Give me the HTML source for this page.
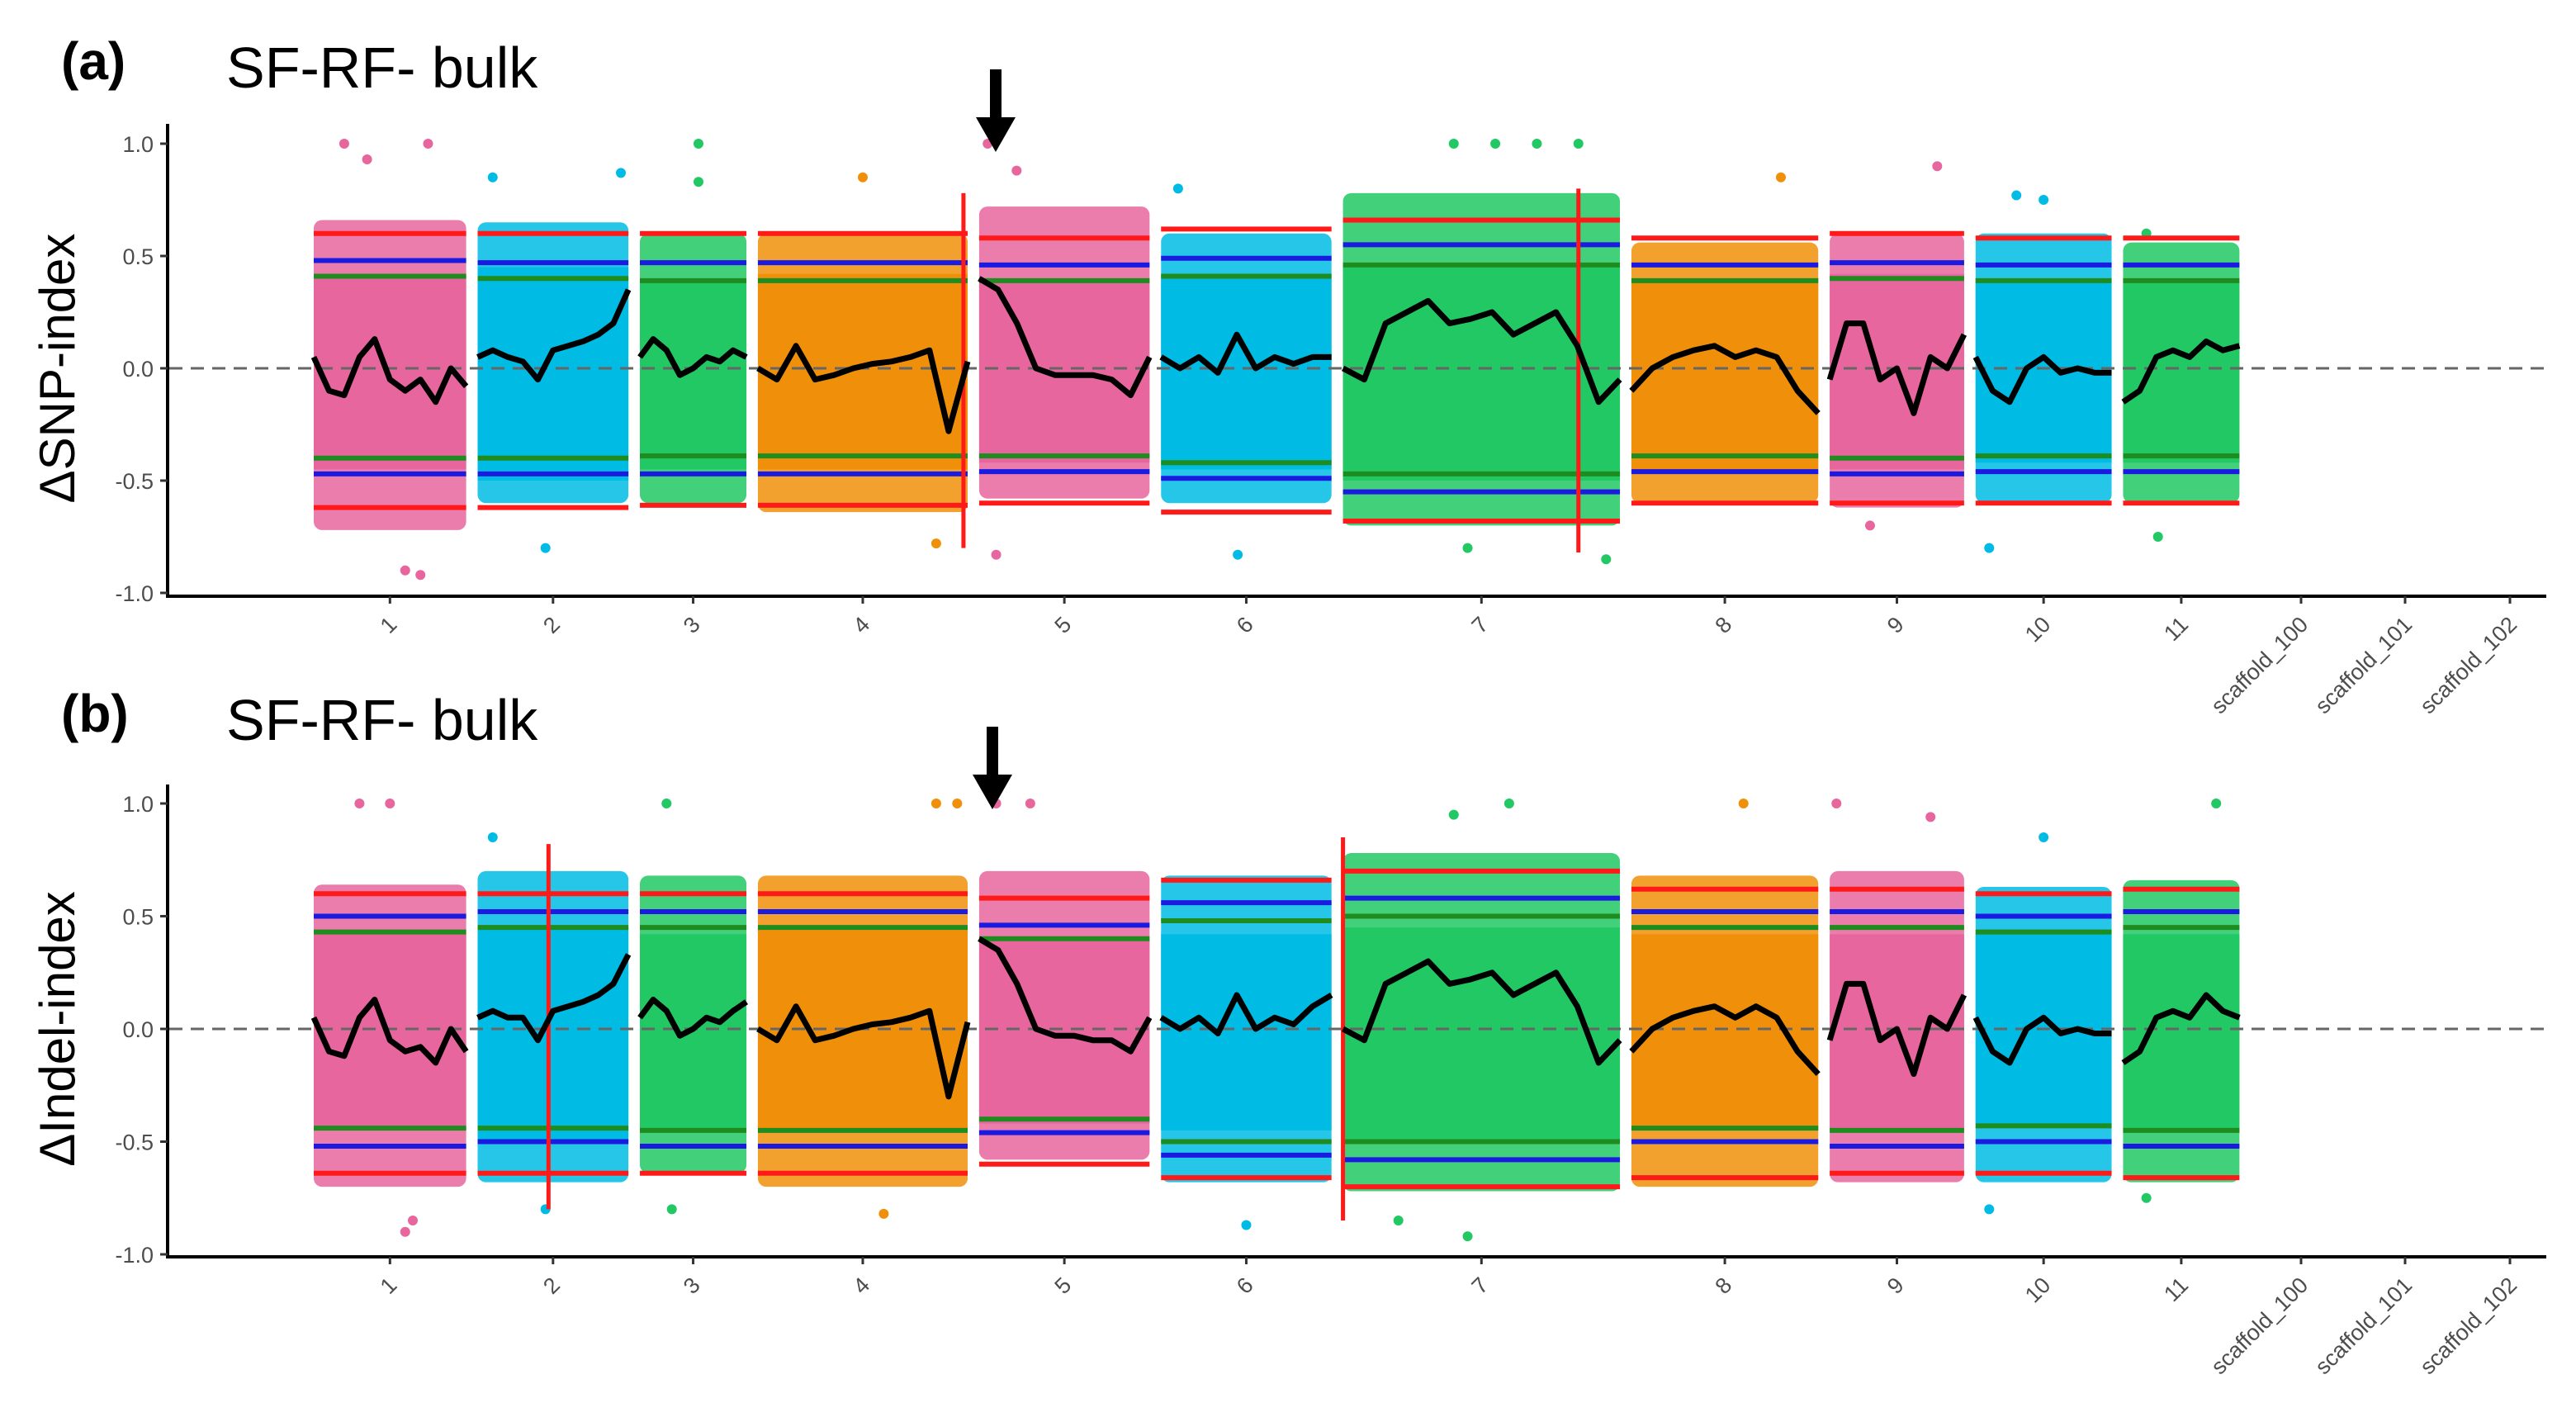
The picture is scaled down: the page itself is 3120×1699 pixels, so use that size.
<!DOCTYPE html>
<html><head><meta charset="utf-8"><style>
html,body{margin:0;padding:0;background:#fff;}
svg{display:block;font-family:"Liberation Sans",Arial,sans-serif;}
</style></head><body>
<svg id="fig" width="3120" height="1699" viewBox="0 0 3120 1699" xmlns="http://www.w3.org/2000/svg"></svg>
<script>
// ---- data ----
const chromNames = ["1","2","3","4","5","6","7","8","9","10","11"];
const chromLengths = [93,92,65,128,104,104,169,114,82,83,71];
const scaffoldNames = ["scaffold_100","scaffold_101","scaffold_102"];
const chromColors = ["#E8669E","#00BCE4","#22C864","#F0900A"];
const yTicks = [-1.0,-0.5,0.0,0.5,1.0];
const yTickLabels = ["-1.0","-0.5","0.0","0.5","1.0"];

const snpMean = [
 [0.05,-0.1,-0.12,0.05,0.13,-0.05,-0.1,-0.05,-0.15,0.0,-0.08],
 [0.05,0.08,0.05,0.03,-0.05,0.08,0.1,0.12,0.15,0.2,0.35],
 [0.05,0.13,0.08,-0.03,0.0,0.05,0.03,0.08,0.05],
 [0.0,-0.05,0.1,-0.05,-0.03,0.0,0.02,0.03,0.05,0.08,-0.28,0.03],
 [0.4,0.35,0.2,0.0,-0.03,-0.03,-0.03,-0.05,-0.12,0.05],
 [0.05,0.0,0.05,-0.02,0.15,0.0,0.05,0.02,0.05,0.05],
 [0.0,-0.05,0.2,0.25,0.3,0.2,0.22,0.25,0.15,0.2,0.25,0.1,-0.15,-0.05],
 [-0.1,0.0,0.05,0.08,0.1,0.05,0.08,0.05,-0.1,-0.2],
 [-0.05,0.2,0.2,-0.05,0.0,-0.2,0.05,0.0,0.15],
 [0.05,-0.1,-0.15,0.0,0.05,-0.02,0.0,-0.02,-0.02],
 [-0.15,-0.1,0.05,0.08,0.05,0.12,0.08,0.1]
];
const indelMean = [
 [0.05,-0.1,-0.12,0.05,0.13,-0.05,-0.1,-0.08,-0.15,0.0,-0.1],
 [0.05,0.08,0.05,0.05,-0.05,0.08,0.1,0.12,0.15,0.2,0.33],
 [0.05,0.13,0.08,-0.03,0.0,0.05,0.03,0.08,0.12],
 [0.0,-0.05,0.1,-0.05,-0.03,0.0,0.02,0.03,0.05,0.08,-0.3,0.03],
 [0.4,0.35,0.2,0.0,-0.03,-0.03,-0.05,-0.05,-0.1,0.05],
 [0.05,0.0,0.05,-0.02,0.15,0.0,0.05,0.02,0.1,0.15],
 [0.0,-0.05,0.2,0.25,0.3,0.2,0.22,0.25,0.15,0.2,0.25,0.1,-0.15,-0.05],
 [-0.1,0.0,0.05,0.08,0.1,0.05,0.1,0.05,-0.1,-0.2],
 [-0.05,0.2,0.2,-0.05,0.0,-0.2,0.05,0.0,0.15],
 [0.05,-0.1,-0.15,0.0,0.05,-0.02,0.0,-0.02,-0.02],
 [-0.15,-0.1,0.05,0.08,0.05,0.15,0.08,0.05]
];
const snpRedHi = [0.6,0.6,0.6,0.6,0.58,0.62,0.66,0.58,0.6,0.58,0.58];
const snpBlueHi = [0.48,0.47,0.47,0.47,0.46,0.49,0.55,0.46,0.47,0.46,0.46];
const snpGreenHi = [0.41,0.4,0.39,0.39,0.39,0.41,0.46,0.39,0.4,0.39,0.39];
const snpRedLo = [-0.62,-0.62,-0.61,-0.61,-0.6,-0.64,-0.68,-0.6,-0.6,-0.6,-0.6];
const snpBlueLo = [-0.47,-0.47,-0.47,-0.47,-0.46,-0.49,-0.55,-0.46,-0.47,-0.46,-0.46];
const snpGreenLo = [-0.4,-0.4,-0.39,-0.39,-0.39,-0.42,-0.47,-0.39,-0.4,-0.39,-0.39];
const indelRedHi = [0.6,0.6,0.6,0.6,0.58,0.66,0.7,0.62,0.62,0.6,0.62];
const indelBlueHi = [0.5,0.52,0.52,0.52,0.46,0.56,0.58,0.52,0.52,0.5,0.52];
const indelGreenHi = [0.43,0.45,0.45,0.45,0.4,0.48,0.5,0.45,0.45,0.43,0.45];
const indelRedLo = [-0.64,-0.64,-0.64,-0.64,-0.6,-0.66,-0.7,-0.66,-0.64,-0.64,-0.66];
const indelBlueLo = [-0.52,-0.5,-0.52,-0.52,-0.46,-0.56,-0.58,-0.5,-0.52,-0.5,-0.52];
const indelGreenLo = [-0.44,-0.44,-0.45,-0.45,-0.4,-0.5,-0.5,-0.44,-0.45,-0.43,-0.45];
const snpCoreHi = [0.42,0.45,0.4,0.42,0.4,0.4,0.45,0.4,0.42,0.4,0.38];
const snpCoreLo = [-0.45,-0.5,-0.45,-0.45,-0.42,-0.45,-0.5,-0.45,-0.45,-0.42,-0.42];
const snpOuterHi = [0.66,0.65,0.6,0.6,0.72,0.6,0.78,0.56,0.6,0.6,0.56];
const snpOuterLo = [-0.72,-0.6,-0.6,-0.64,-0.58,-0.6,-0.7,-0.6,-0.62,-0.6,-0.6];
const indelCoreHi = [0.42,0.45,0.42,0.45,0.4,0.42,0.45,0.42,0.42,0.42,0.42];
const indelCoreLo = [-0.45,-0.5,-0.45,-0.45,-0.42,-0.45,-0.5,-0.45,-0.45,-0.42,-0.45];
const indelOuterHi = [0.64,0.7,0.68,0.68,0.7,0.68,0.78,0.68,0.7,0.63,0.66];
const indelOuterLo = [-0.7,-0.68,-0.64,-0.7,-0.58,-0.68,-0.72,-0.7,-0.68,-0.68,-0.68];
const snpOutChrom = [0,0,0,0,0,1,1,1,2,2,3,3,4,4,4,5,5,6,6,6,6,6,6,7,8,8,9,9,9,10,10];
const snpOutFrac  = [0.2,0.75,0.35,0.6,0.7,0.1,0.95,0.45,0.55,0.55,0.5,0.85,0.05,0.22,0.1,0.1,0.45,0.4,0.55,0.7,0.85,0.45,0.95,0.8,0.8,0.3,0.3,0.5,0.1,0.3,0.2];
const snpOutVal   = [1.0,1.0,0.93,-0.9,-0.92,0.85,0.87,-0.8,1.0,0.83,0.85,-0.78,1.0,0.88,-0.83,0.8,-0.83,1.0,1.0,1.0,1.0,-0.8,-0.85,0.85,0.9,-0.7,0.77,0.75,-0.8,-0.75,0.6];
const indelOutChrom = [0,0,0,0,1,1,2,2,3,3,3,4,4,5,6,6,6,6,7,8,8,9,9,10,10];
const indelOutFrac  = [0.3,0.5,0.65,0.6,0.1,0.45,0.25,0.3,0.85,0.95,0.6,0.1,0.3,0.5,0.6,0.45,0.2,0.4,0.6,0.05,0.75,0.5,0.1,0.8,0.2];
const indelOutVal   = [1.0,1.0,-0.85,-0.9,0.85,-0.8,1.0,-0.8,1.0,1.0,-0.82,1.0,1.0,-0.87,1.0,-0.92,-0.85,0.95,1.0,1.0,0.94,0.85,-0.8,1.0,-0.75];
// vertical threshold spikes: chrom index, fraction, top value, bottom value
const snpSpikeChrom = [3,6];
const snpSpikeFrac = [0.98,0.85];
const snpSpikeTop = [0.78,0.8];
const snpSpikeBot = [-0.8,-0.82];
const indelSpikeChrom = [1,6];
const indelSpikeFrac = [0.47,0.0];
const indelSpikeTop = [0.82,0.85];
const indelSpikeBot = [-0.8,-0.85];

// ---- layout ----
const NS = "http://www.w3.org/2000/svg";
const svg = document.getElementById("fig");
const GAP = 7;
const xLeft = 380, chromPxPerUnit = 1.985;
const starts = [];
{ let s = 0; chromLengths.forEach(L=>{starts.push(s); s += L + GAP;}); }
function xScale(u){ return xLeft + u*chromPxPerUnit; }
const scaffoldX = [2787,2913,3040];

function el(tag, attrs, parent){
  const e = document.createElementNS(NS, tag);
  for (const k in attrs) e.setAttribute(k, attrs[k]);
  (parent||svg).appendChild(e);
  return e;
}

function panel(cfg){
  const y0 = cfg.zeroY, yr = cfg.unitPx;
  const yScale = v => y0 - v*yr;
  const g = el("g", {});
  
  

  chromLengths.forEach((L,i)=>{
    const x1 = xScale(starts[i]), x2 = xScale(starts[i]+L), col = chromColors[i%4];
    const outer = el("rect",{x:x1,y:yScale(cfg.outerHi[i]),width:x2-x1,height:yScale(cfg.outerLo[i])-yScale(cfg.outerHi[i]),fill:col,opacity:0.85,rx:10},g);
    
    
    const core = el("rect",{x:x1,y:yScale(cfg.coreHi[i]),width:x2-x1,height:yScale(cfg.coreLo[i])-yScale(cfg.coreHi[i]),fill:col},g);
    
    
  });
  cfg.outChrom.forEach((c,k)=>{
    const cx = xScale(starts[c] + cfg.outFrac[k]*chromLengths[c]);
    const d = el("circle",{cx:cx,cy:yScale(cfg.outVal[k]),r:6,fill:chromColors[c%4]},g);
    
    
  });

  const zl = el("line",{x1:205,x2:3084,y1:yScale(0),y2:yScale(0),stroke:"#666",'stroke-width':3,'stroke-dasharray':"16 10"},g);
  
  

  const th = [[cfg.redHi,"#FF1A1A"],[cfg.blueHi,"#1A1AE0"],[cfg.greenHi,"#1E8C1E"],[cfg.redLo,"#FF1A1A"],[cfg.blueLo,"#1A1AE0"],[cfg.greenLo,"#1E8C1E"]];
  const thNames = ["ci99-upper","ci95-upper","ci90-upper","ci99-lower","ci95-lower","ci90-lower"];
  th.forEach(([arr,col],t)=>{
    chromLengths.forEach((L,i)=>{
      const l = el("line",{x1:xScale(starts[i]),x2:xScale(starts[i]+L),y1:yScale(arr[i]),y2:yScale(arr[i]),stroke:col,'stroke-width':6},g);
      
      
    });
  });
  cfg.spikeChrom.forEach((c,k)=>{
    const x = xScale(starts[c] + cfg.spikeFrac[k]*chromLengths[c]);
    const s = el("line",{x1:x,x2:x,y1:yScale(cfg.spikeTop[k]),y2:yScale(cfg.spikeBot[k]),stroke:"#FF1A1A",'stroke-width':5},g);
    
    
  });

  cfg.mean.forEach((vals,i)=>{
    const n = vals.length;
    const pts = vals.map((v,j)=> xScale(starts[i] + chromLengths[i]*j/(n-1)).toFixed(1)+","+yScale(v).toFixed(1)).join(" ");
    const p = el("polyline",{points:pts,fill:"none",stroke:"#000",'stroke-width':7,'stroke-linejoin':"round"},g);
    
    
  });

  const ya = el("line",{x1:203,x2:203,y1:cfg.axisTop,y2:cfg.axisY,stroke:"#000",'stroke-width':4},g);
  
  
  const xa = el("line",{x1:201,x2:3084,y1:cfg.axisY,y2:cfg.axisY,stroke:"#000",'stroke-width':4},g);
  
  
  yTicks.forEach((v,k)=>{
    const t = el("line",{x1:194,x2:203,y1:yScale(v),y2:yScale(v),stroke:"#333",'stroke-width':3},g);
    
    
    const tx = el("text",{x:186,y:yScale(v)+10,'text-anchor':"end",'font-size':27,fill:"#4d4d4d"},g);
    tx.textContent = yTickLabels[k];
    
    
  });
  const labels = chromNames.map((n,i)=>[n, xScale(starts[i]+chromLengths[i]/2)]).concat(scaffoldNames.map((n,i)=>[n, scaffoldX[i]]));
  labels.forEach(([n,x])=>{
    const t = el("line",{x1:x,x2:x,y1:cfg.axisY,y2:cfg.axisY+9,stroke:"#333",'stroke-width':3},g);
    
    
    const ty = cfg.axisY+26;
    const tx = el("text",{x:x+10,y:ty+10,'text-anchor':"end",'font-size':27,fill:"#4d4d4d",transform:`rotate(-45 ${x+10} ${ty+10})`},g);
    tx.textContent = n;
    
    
  });
  const yt = el("text",{x:0,y:0,'text-anchor':"middle",'font-size':60,fill:"#000",transform:`translate(90 ${yScale(0)}) rotate(-90)`},g);
  yt.textContent = cfg.yTitle;
  
  
  const pl = el("text",{x:74,y:cfg.titleY,'font-size':64,'font-weight':"bold",fill:"#000"},g);
  pl.textContent = cfg.letter;
  
  
  const tt = el("text",{x:274,y:cfg.titleY+10,'font-size':70,fill:"#000"},g);
  tt.textContent = "SF-RF- bulk";
  
  
  const ax = cfg.arrowX, at = cfg.arrowTop;
  const ar = el("polygon",{points:`${ax-7},${at} ${ax+7},${at} ${ax+7},${at+58} ${ax+24},${at+58} ${ax},${at+100} ${ax-24},${at+58} ${ax-7},${at+58}`,fill:"#000"},g);
  
  
}

panel({name:"panel-a-snp",zeroY:446,unitPx:272,axisY:722,axisTop:150,yTitle:"ΔSNP-index",letter:"(a)",titleY:96,arrowX:1206,arrowTop:84,
  mean:snpMean,redHi:snpRedHi,blueHi:snpBlueHi,greenHi:snpGreenHi,redLo:snpRedLo,blueLo:snpBlueLo,greenLo:snpGreenLo,
  coreHi:snpCoreHi,coreLo:snpCoreLo,outerHi:snpOuterHi,outerLo:snpOuterLo,outChrom:snpOutChrom,outFrac:snpOutFrac,outVal:snpOutVal,
  spikeChrom:snpSpikeChrom,spikeFrac:snpSpikeFrac,spikeTop:snpSpikeTop,spikeBot:snpSpikeBot});
panel({name:"panel-b-indel",zeroY:1246,unitPx:273,axisY:1522,axisTop:950,yTitle:"ΔIndel-index",letter:"(b)",titleY:886,arrowX:1202,arrowTop:880,
  mean:indelMean,redHi:indelRedHi,blueHi:indelBlueHi,greenHi:indelGreenHi,redLo:indelRedLo,blueLo:indelBlueLo,greenLo:indelGreenLo,
  coreHi:indelCoreHi,coreLo:indelCoreLo,outerHi:indelOuterHi,outerLo:indelOuterLo,outChrom:indelOutChrom,outFrac:indelOutFrac,outVal:indelOutVal,
  spikeChrom:indelSpikeChrom,spikeFrac:indelSpikeFrac,spikeTop:indelSpikeTop,spikeBot:indelSpikeBot});
</script>
</body></html>
